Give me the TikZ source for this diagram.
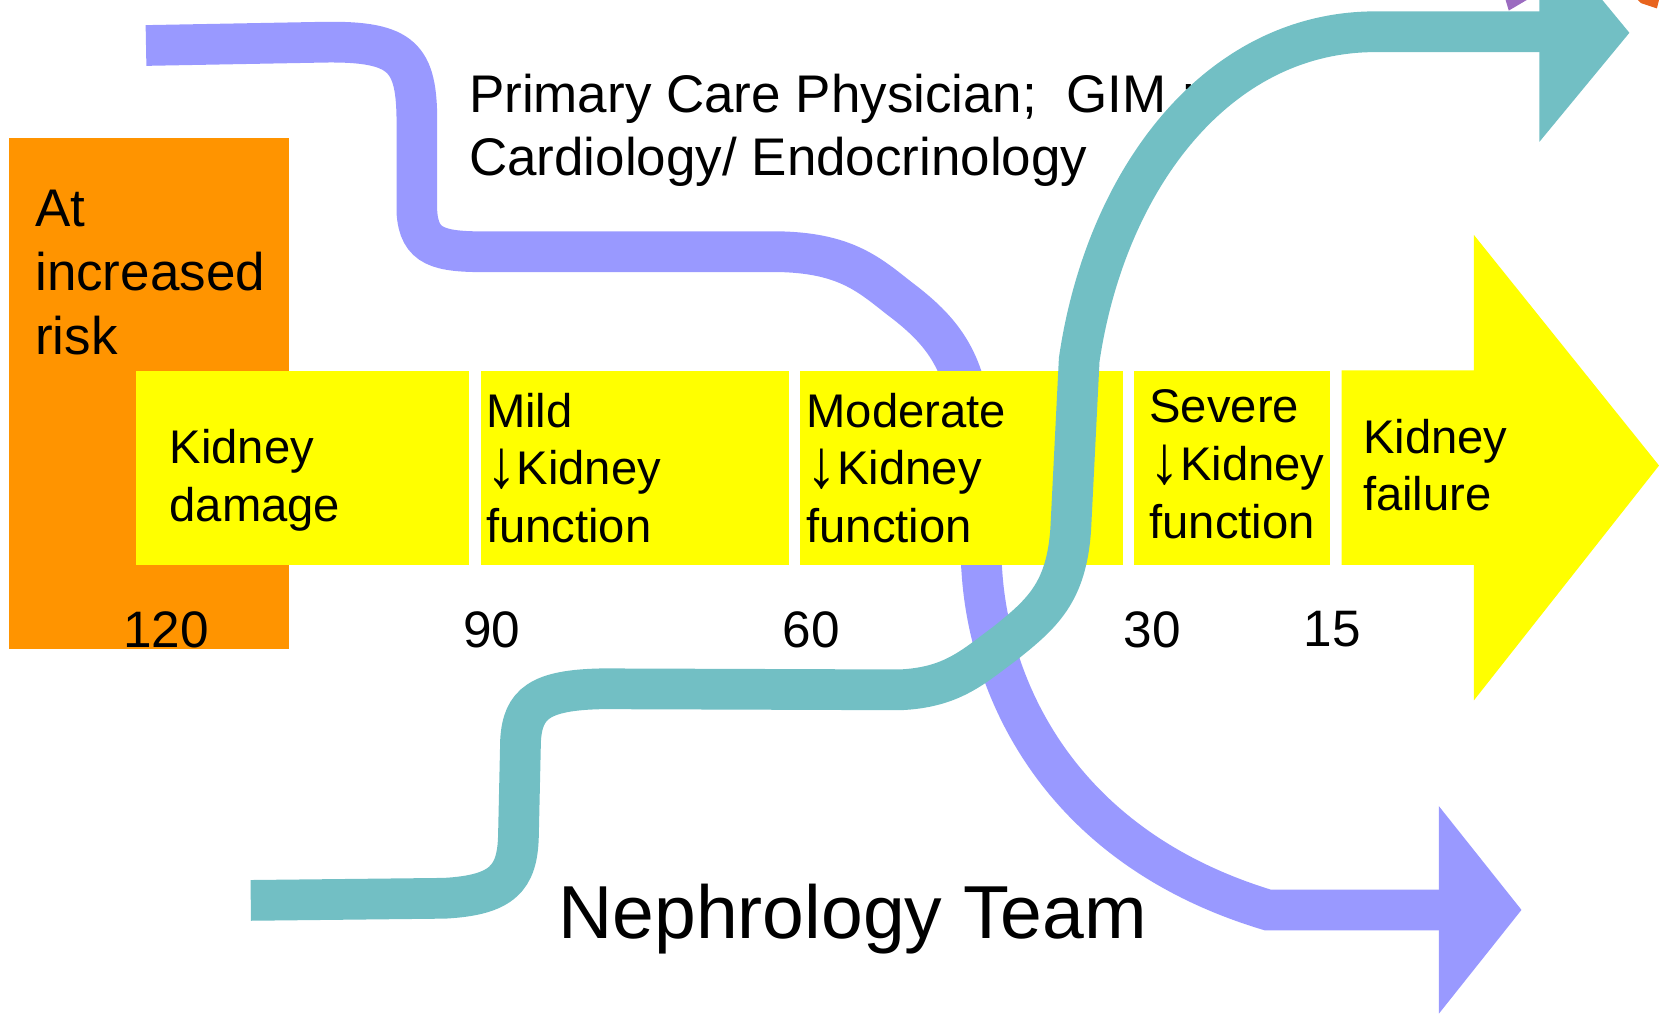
\documentclass[tikz,border=0pt]{standalone}
\usepackage{graphicx}
\usepackage{fontspec}
\setmainfont{Liberation Sans}
\usetikzlibrary{positioning}

\definecolor{riskorange}{HTML}{FF9400}
\definecolor{stageyellow}{HTML}{FFFF00}
\definecolor{pcplilac}{HTML}{9999FF}
\definecolor{nephteal}{HTML}{72BFC4}
\definecolor{tipviolet}{HTML}{9B6BC0}
\definecolor{tiporange}{HTML}{E8641E}

% taller down arrow in front of "Kidney"
\newcommand{\lowered}{\raisebox{-0.06em}{\scalebox{1.3}[1.45]{↓}}}

\tikzset{
  stage/.style={fill=stageyellow, anchor=north west, inner sep=0pt, minimum height=3.68cm},
  stagetext/.style={inner sep=0pt, align=left, font=\fontsize{25.4}{31}\selectfont},
  gfr/.style={inner sep=0pt, font=\fontsize{27.6}{33}\selectfont},
  band/.style={line width=0.77cm},
}

\begin{document}
\begin{tikzpicture}[x=0.02cm, y=-0.02cm]
\clip (0,0) rectangle (1568,959);

% risk column behind the first stage
\node[fill=riskorange, anchor=north west, inner sep=0pt, minimum width=5.3cm,
minimum height=9.66cm] (risk) at (8,130) {};
\node[inner sep=0pt, align=left, anchor=west, font=\fontsize{28.5}{34.4}\selectfont]
(risklabel) at (33,257.5) {At\\increased\\risk};

% primary care band, runs under the stages
\draw[band, pcplilac] (138,43) -- (300,40) .. controls (378,38) and (393,52) .. (394,110)
  -- (394,200) .. controls (396,234) and (415,238) .. (460,238) -- (740,238)
  .. controls (800,240) and (822,260) .. (850,282) .. controls (890,312) and (912,340) .. (918,400)
  -- (928,540) .. controls (935,650) and (1000,800) .. (1198,860) -- (1362,860);
\fill[pcplilac] (1360,762) -- (1438,860) -- (1360,958) -- cycle;

% stages of kidney disease
\node[stage, minimum width=6.3cm] (damage) at (128,350) {};
\node[stage, minimum width=5.82cm] (mild) at (454,350) {};
\node[stage, minimum width=6.1cm] (moderate) at (756,350) {};
\node[stage, minimum width=3.72cm] (severe) at (1071,350) {};
\fill[stageyellow] (1268,350) -- (1393,350) -- (1393,222) -- (1568,440) -- (1393,662)
  -- (1393,534) -- (1268,534) -- cycle;
\coordinate (failure) at (1268,442);

\node[stagetext, right=0.64cm of damage.west, yshift=-0.23cm] (damagetxt) {Kidney\\damage};
\node[stagetext, right=0.1cm of mild.west] (mildtxt) {Mild\\\lowered Kidney\\function};
\node[stagetext, right=0.12cm of moderate.west] (moderatetxt) {Moderate\\\lowered Kidney\\function};
\node[stagetext, right=0.3cm of severe.west, yshift=0.07cm] (severetxt) {Severe\\\lowered Kidney\\function};
\node[stagetext, right=0.4cm of failure, yshift=0.05cm] (failuretxt) {Kidney\\failure};

% GFR marks
\node[gfr] (g120) at (157,595) {120};
\node[gfr] (g90) at (465,595) {90};
\node[gfr] (g60) at (767,595) {60};
\node[gfr] (g30) at (1089,595) {30};
\node[gfr] (g15) at (1259,595) {15};

\node[inner sep=0pt, align=left, anchor=west, font=\fontsize{28.5}{34.2}\selectfont]
(care) at (443,123) {Primary Care Physician;\ \ GIM :\\Cardiology/ Endocrinology};
\node[inner sep=0pt, font=\fontsize{40.4}{48}\selectfont] (neph) at (806,869) {Nephrology Team};

% nephrology band, drawn on top
\draw[band, nephteal] (237,851) -- (420,849) .. controls (475,846) and (489,830) .. (490,790)
  -- (492,700) .. controls (494,665) and (510,652) .. (570,651) -- (850,652)
  .. controls (900,650) and (920,630) .. (950,608) .. controls (985,580) and (1008,560) .. (1012,500)
  -- (1020,340) .. controls (1045,170) and (1150,30) .. (1300,30) -- (1457,30);
\fill[nephteal] (1455,-72) -- (1540,31) -- (1455,134) -- cycle;

% cut-off tips at the top edge
\fill[tipviolet] (1423,0) -- (1443,0) -- (1426,10) -- cycle;
\fill[tiporange] (1548,0) -- (1568,0) -- (1566,8) -- (1551,3) -- cycle;
\end{tikzpicture}
\end{document}
